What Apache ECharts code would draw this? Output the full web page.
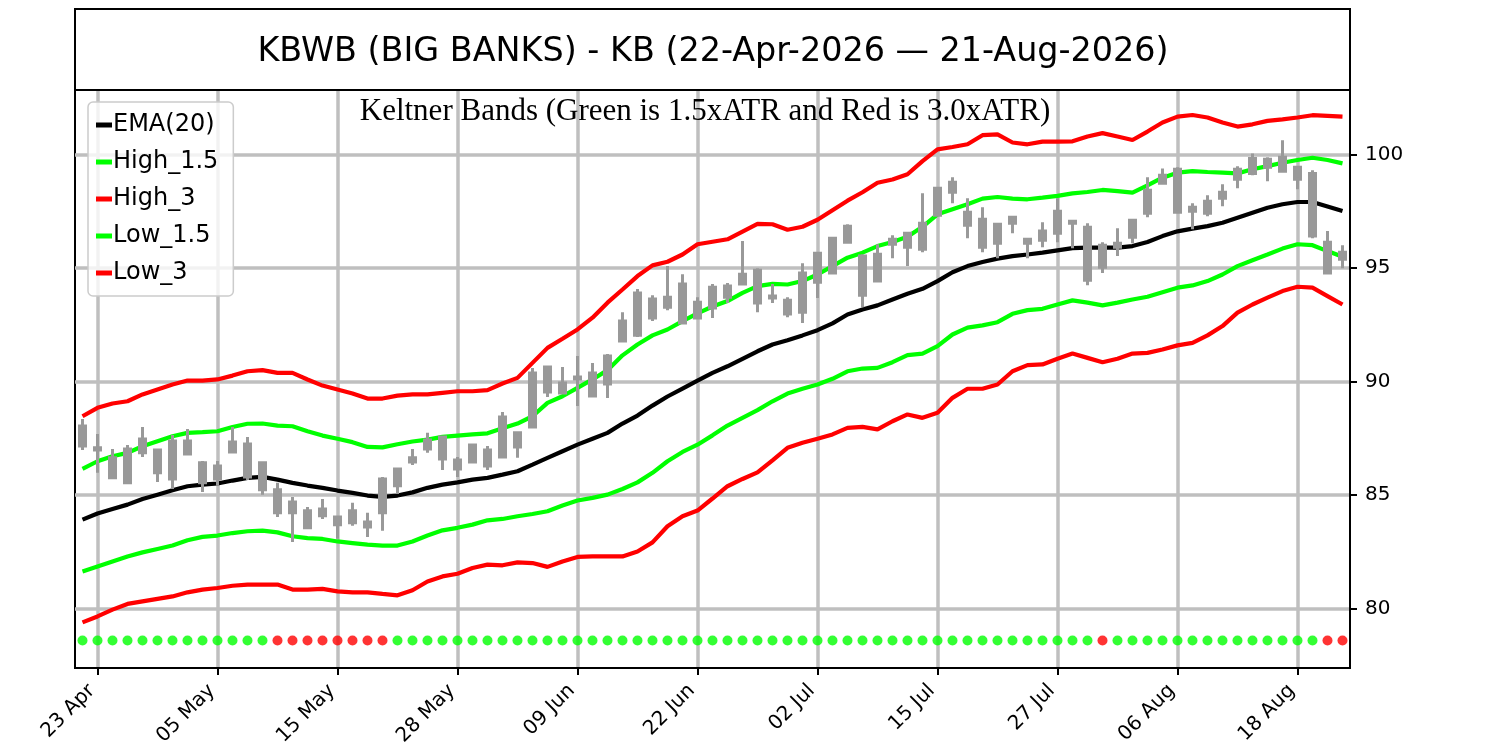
<!DOCTYPE html>
<html>
<head>
<meta charset="utf-8">
<title>KBWB Keltner Bands</title>
<script src="https://cdn.jsdelivr.net/npm/echarts@6/dist/echarts.min.js"></script>
<style>
html, body { margin: 0; padding: 0; background: #fff; }
#chart { width: 1500px; height: 750px; }
</style>
</head>
<body>
<div id="chart"></div>
<script>
var titleText = 'KBWB (BIG BANKS) - KB (22-Apr-2026 \u2014 21-Aug-2026)';
var subtitleText = 'Keltner Bands (Green is 1.5xATR and Red is 3.0xATR)';

// trading days
var dates = [
	'2026-04-22','2026-04-23','2026-04-24','2026-04-27','2026-04-28','2026-04-29','2026-04-30',
	'2026-05-01','2026-05-04','2026-05-05','2026-05-06','2026-05-07','2026-05-08','2026-05-11',
	'2026-05-12','2026-05-13','2026-05-14','2026-05-15','2026-05-18','2026-05-19','2026-05-20',
	'2026-05-21','2026-05-22','2026-05-26','2026-05-27','2026-05-28','2026-05-29',
	'2026-06-01','2026-06-02','2026-06-03','2026-06-04','2026-06-05','2026-06-08','2026-06-09',
	'2026-06-10','2026-06-11','2026-06-12','2026-06-15','2026-06-16','2026-06-17','2026-06-18',
	'2026-06-22','2026-06-23','2026-06-24','2026-06-25','2026-06-26','2026-06-29','2026-06-30',
	'2026-07-01','2026-07-02','2026-07-06','2026-07-07','2026-07-08','2026-07-09','2026-07-10',
	'2026-07-13','2026-07-14','2026-07-15','2026-07-16','2026-07-17','2026-07-20','2026-07-21',
	'2026-07-22','2026-07-23','2026-07-24','2026-07-27','2026-07-28','2026-07-29','2026-07-30',
	'2026-07-31','2026-08-03','2026-08-04','2026-08-05','2026-08-06','2026-08-07','2026-08-10',
	'2026-08-11','2026-08-12','2026-08-13','2026-08-14','2026-08-17','2026-08-18','2026-08-19',
	'2026-08-20','2026-08-21'
];
var monthNames = ['Jan','Feb','Mar','Apr','May','Jun','Jul','Aug','Sep','Oct','Nov','Dec'];
var tickIdx = [1, 9, 17, 25, 33, 41, 49, 57, 65, 73, 81];
var yTicks = [80, 85, 90, 95, 100];

// candles (all drawn grey)
var candleOpen = [
	88.04, 87.08, 86.64, 87.03, 87.47, 86.99, 87.38, 87.38, 86.42, 86.28,
	87.34, 87.25, 86.42, 85.23, 84.70, 84.31, 84.39, 84.04, 84.31, 83.82,
	85.71, 86.15, 86.64, 87.43, 87.56, 86.55, 87.21, 86.99, 88.44, 87.74,
	90.37, 90.64, 89.93, 90.20, 90.37, 91.12, 92.66, 93.89, 93.63, 93.71,
	94.29, 93.49, 94.15, 94.20, 94.72, 94.90, 93.76, 93.58, 94.77, 95.65,
	96.31, 96.83, 95.52, 95.60, 96.26, 96.53, 96.97, 98.51, 98.77, 97.45,
	97.14, 96.92, 97.23, 96.26, 96.62, 97.49, 97.05, 96.79, 96.00, 96.09,
	97.10, 98.42, 99.08, 99.34, 97.67, 97.93, 98.33, 99.34, 99.82, 99.78,
	99.87, 99.43, 99.16, 96.13, 95.69
];
var candleClose = [
	87.16, 86.99, 85.76, 85.54, 86.86, 85.98, 85.71, 86.81, 85.54, 85.71,
	86.90, 85.80, 85.23, 84.22, 84.22, 83.56, 84.09, 83.69, 83.78, 83.60,
	84.22, 85.41, 86.46, 87.03, 86.59, 86.15, 86.46, 86.28, 86.68, 87.12,
	88.00, 89.54, 89.49, 90.11, 89.36, 89.89, 91.78, 92.04, 92.79, 93.27,
	92.57, 92.79, 93.23, 93.71, 94.29, 93.45, 93.67, 92.97, 93.05, 94.37,
	94.77, 96.13, 93.80, 94.42, 96.04, 95.91, 95.82, 97.32, 98.33, 96.88,
	95.91, 96.09, 96.97, 96.09, 96.22, 96.53, 96.97, 94.46, 95.03, 95.91,
	96.35, 97.41, 98.73, 97.45, 97.49, 97.41, 98.07, 98.90, 99.16, 99.43,
	99.25, 98.90, 96.40, 94.77, 95.38
];
var candleLow = [
	86.99, 85.98, 85.71, 85.54, 86.68, 85.58, 85.27, 86.81, 85.14, 85.41,
	86.90, 85.67, 85.01, 84.04, 82.94, 83.56, 83.95, 83.08, 83.65, 83.16,
	83.43, 85.05, 86.33, 86.86, 86.11, 85.80, 86.42, 86.11, 86.68, 86.64,
	88.00, 89.32, 89.45, 88.92, 89.36, 89.27, 91.78, 91.96, 92.66, 93.14,
	92.53, 92.79, 92.79, 93.45, 94.29, 93.05, 93.45, 92.83, 92.57, 93.67,
	94.72, 96.13, 93.27, 94.42, 95.43, 95.08, 95.69, 97.32, 97.85, 96.31,
	95.69, 95.43, 96.53, 95.43, 95.91, 96.13, 95.87, 94.24, 94.77, 95.52,
	96.09, 97.23, 98.68, 97.45, 96.70, 97.27, 97.71, 98.51, 99.08, 98.81,
	99.25, 98.46, 96.31, 94.77, 94.99
];
var candleHigh = [
	88.35, 87.69, 87.03, 87.21, 88.00, 86.99, 87.65, 87.91, 86.50, 86.50,
	88.00, 87.56, 86.42, 85.54, 84.92, 84.48, 84.83, 84.09, 84.66, 84.22,
	85.80, 86.20, 87.03, 87.74, 87.56, 86.68, 87.21, 87.16, 88.66, 87.74,
	90.59, 90.68, 90.64, 91.12, 90.81, 91.21, 93.05, 94.07, 93.80, 95.08,
	94.72, 93.71, 94.29, 94.33, 96.18, 94.99, 94.29, 93.71, 95.21, 95.65,
	96.31, 96.92, 95.60, 96.04, 96.44, 96.57, 98.29, 98.51, 98.99, 98.07,
	97.67, 96.92, 97.27, 96.26, 97.01, 98.07, 97.05, 96.97, 96.13, 96.75,
	97.10, 98.99, 99.38, 99.43, 97.85, 98.20, 98.68, 99.47, 100.04, 99.87,
	100.62, 99.43, 99.30, 96.62, 96.00
];

// Keltner lines
var ema20 = [
	83.92, 84.19, 84.39, 84.58, 84.83, 85.02, 85.21, 85.39, 85.46, 85.51,
	85.64, 85.76, 85.80, 85.68, 85.54, 85.42, 85.32, 85.20, 85.10, 84.98,
	84.92, 84.98, 85.12, 85.32, 85.46, 85.56, 85.68, 85.76, 85.90, 86.05,
	86.34, 86.64, 86.93, 87.22, 87.48, 87.74, 88.15, 88.50, 88.94, 89.34,
	89.69, 90.04, 90.38, 90.67, 91.00, 91.33, 91.63, 91.82, 92.03, 92.26,
	92.56, 92.95, 93.17, 93.35, 93.61, 93.86, 94.08, 94.42, 94.81, 95.08,
	95.26, 95.41, 95.52, 95.59, 95.67, 95.77, 95.87, 95.89, 95.89, 95.89,
	95.96, 96.14, 96.40, 96.61, 96.73, 96.84, 96.99, 97.21, 97.43, 97.65,
	97.80, 97.90, 97.90, 97.70, 97.50
];
var high15 = [
	86.15, 86.49, 86.71, 86.86, 87.15, 87.37, 87.59, 87.74, 87.77, 87.81,
	88.00, 88.14, 88.15, 88.06, 88.03, 87.81, 87.62, 87.48, 87.33, 87.12,
	87.10, 87.24, 87.36, 87.44, 87.56, 87.62, 87.67, 87.72, 87.94, 88.15,
	88.47, 89.06, 89.35, 89.72, 90.09, 90.50, 91.15, 91.63, 92.03, 92.29,
	92.66, 93.00, 93.30, 93.54, 93.90, 94.20, 94.30, 94.27, 94.42, 94.71,
	95.08, 95.45, 95.67, 95.96, 96.14, 96.37, 96.81, 97.36, 97.58, 97.80,
	98.05, 98.12, 98.05, 98.02, 98.09, 98.17, 98.28, 98.34, 98.43, 98.38,
	98.31, 98.63, 98.97, 99.19, 99.26, 99.22, 99.19, 99.16, 99.34, 99.48,
	99.63, 99.75, 99.85, 99.75, 99.60
];
var high3 = [
	88.47, 88.84, 89.03, 89.13, 89.43, 89.65, 89.87, 90.04, 90.04, 90.09,
	90.26, 90.45, 90.50, 90.38, 90.38, 90.09, 89.82, 89.65, 89.47, 89.25,
	89.25, 89.38, 89.43, 89.43, 89.50, 89.57, 89.57, 89.62, 89.91, 90.16,
	90.82, 91.48, 91.88, 92.29, 92.81, 93.47, 94.05, 94.64, 95.11, 95.27,
	95.59, 96.04, 96.15, 96.26, 96.60, 96.94, 96.92, 96.68, 96.81, 97.12,
	97.54, 97.96, 98.33, 98.75, 98.89, 99.12, 99.70, 100.22, 100.32, 100.44,
	100.84, 100.88, 100.52, 100.44, 100.56, 100.56, 100.57, 100.78, 100.93, 100.78,
	100.63, 101.00, 101.40, 101.66, 101.73, 101.62, 101.40, 101.22, 101.32, 101.47,
	101.54, 101.62, 101.72, 101.69, 101.66
];
var low15 = [
	81.64, 81.86, 82.08, 82.30, 82.48, 82.63, 82.78, 83.01, 83.16, 83.22,
	83.33, 83.41, 83.44, 83.36, 83.19, 83.11, 83.07, 82.96, 82.89, 82.82,
	82.78, 82.78, 82.96, 83.22, 83.45, 83.56, 83.70, 83.89, 83.95, 84.07,
	84.17, 84.29, 84.54, 84.76, 84.88, 85.02, 85.27, 85.56, 85.98, 86.49,
	86.90, 87.22, 87.63, 88.06, 88.40, 88.74, 89.13, 89.47, 89.68, 89.87,
	90.12, 90.45, 90.57, 90.60, 90.85, 91.16, 91.23, 91.56, 92.07, 92.37,
	92.47, 92.61, 92.98, 93.14, 93.20, 93.39, 93.57, 93.47, 93.35, 93.47,
	93.61, 93.73, 93.93, 94.13, 94.23, 94.42, 94.71, 95.08, 95.34, 95.59,
	95.85, 96.04, 96.00, 95.74, 95.49
];
var low3 = [
	79.40, 79.66, 79.96, 80.21, 80.32, 80.43, 80.54, 80.72, 80.84, 80.91,
	81.01, 81.06, 81.06, 81.06, 80.84, 80.84, 80.87, 80.76, 80.72, 80.72,
	80.65, 80.59, 80.81, 81.20, 81.42, 81.54, 81.79, 81.94, 81.91, 82.04,
	82.01, 81.84, 82.08, 82.28, 82.30, 82.30, 82.30, 82.52, 82.92, 83.63,
	84.07, 84.32, 84.85, 85.39, 85.71, 86.00, 86.53, 87.08, 87.30, 87.48,
	87.67, 87.96, 88.00, 87.89, 88.25, 88.55, 88.40, 88.62, 89.28, 89.68,
	89.68, 89.87, 90.45, 90.72, 90.75, 91.00, 91.23, 91.04, 90.85, 91.00,
	91.23, 91.26, 91.41, 91.59, 91.70, 92.03, 92.44, 93.03, 93.39, 93.69,
	93.98, 94.17, 94.13, 93.76, 93.39
];

// signal row: 1 = green, 0 = red
var signal = [
	1, 1, 1, 1, 1, 1, 1, 1, 1, 1,
	1, 1, 1, 0, 0, 0, 0, 0, 0, 0,
	0, 1, 1, 1, 1, 1, 1, 1, 1, 1,
	1, 1, 1, 1, 1, 1, 1, 1, 1, 1,
	1, 1, 1, 1, 1, 1, 1, 1, 1, 1,
	1, 1, 1, 1, 1, 1, 1, 1, 1, 1,
	1, 1, 1, 1, 1, 1, 1, 1, 0, 1,
	1, 1, 1, 1, 1, 1, 1, 1, 1, 1,
	1, 1, 1, 0, 0
];
var signalLevel = 78.6;

var FONT = '"DejaVu Sans", sans-serif';
var GREEN = '#00ff00';
var RED = '#ff0000';
var GRID_GREY = '#bfbfbf';

function dayLabel(i) {
	var d = dates[i];
	if (!d) return '';
	return d.slice(8, 10) + ' ' + monthNames[parseInt(d.slice(5, 7), 10) - 1];
}

function pairs(arr) {
	return arr.map(function (v, i) { return [i, v]; });
}

function lineSeries(name, values, color) {
	return {
		name: name,
		type: 'line',
		data: pairs(values),
		symbol: 'none',
		z: 3,
		itemStyle: { color: color },
		lineStyle: { color: color, width: 4.2 }
	};
}

var candleData = candleOpen.map(function (o, i) {
	return [i, o, candleClose[i], candleLow[i], candleHigh[i]];
});

var signalData = signal.map(function (s, i) {
	return { value: [i, signalLevel], itemStyle: { color: s ? GREEN : RED } };
});

var chart = echarts.init(document.getElementById('chart'));

chart.setOption({
	animation: false,
	backgroundColor: '#fff',
	grid: {
		left: 75, right: 150, top: 90, bottom: 82,
		show: true, borderColor: '#000', borderWidth: 2,
		containLabel: false
	},
	legend: {
		orient: 'vertical',
		left: 88, top: 102,
		padding: [10, 15, 10, 8],
		itemGap: 11,
		itemWidth: 16, itemHeight: 5,
		icon: 'rect',
		backgroundColor: 'rgba(255,255,255,0.8)',
		borderColor: '#cccccc', borderWidth: 1.5, borderRadius: 5,
		textStyle: { fontFamily: FONT, fontSize: 24, color: '#000', lineHeight: 26, padding: [0, 0, 0, -4] },
		data: ['EMA(20)', 'High_1.5', 'High_3', 'Low_1.5', 'Low_3']
	},
	graphic: [
		{
			type: 'rect', silent: true, z: 100,
			shape: { x: 75, y: 9, width: 1275, height: 81 },
			style: { fill: 'none', stroke: '#000', lineWidth: 2 }
		},
		{
			type: 'text', silent: true, z: 100, x: 713, y: 52,
			style: { text: titleText, fill: '#000', fontSize: 33.4, fontFamily: 'DejaVu Sans', align: 'center', verticalAlign: 'middle' }
		},
		{
			type: 'text', silent: true, z: 100, x: 705, y: 112,
			style: { text: subtitleText, fill: '#000', fontSize: 31, fontFamily: 'Liberation Serif', align: 'center', verticalAlign: 'middle' }
		}
	],
	xAxis: {
		type: 'value',
		min: -0.5, max: dates.length - 0.5,
		axisLine: { show: true, onZero: false, lineStyle: { color: '#000', width: 2 } },
		axisTick: { show: true, length: 7, customValues: tickIdx, lineStyle: { color: '#000', width: 2 } },
		axisLabel: {
			customValues: tickIdx,
			rotate: 45, margin: 14,
			padding: [0, 8, 0, 0],
			fontFamily: FONT, fontSize: 20, color: '#000',
			formatter: function (v) { return dayLabel(Math.round(v)); }
		},
		splitLine: { show: true, lineStyle: { color: GRID_GREY, width: 3.5 } }
	},
	yAxis: {
		type: 'value',
		position: 'right',
		min: 77.39, max: 102.83,
		axisLine: { show: true, onZero: false, lineStyle: { color: '#000', width: 2 } },
		axisTick: { show: true, length: 7, customValues: yTicks, lineStyle: { color: '#000', width: 2 } },
		axisLabel: {
			customValues: yTicks,
			margin: 15,
			fontFamily: FONT, fontSize: 20, color: '#000'
		},
		splitLine: { show: true, lineStyle: { color: GRID_GREY, width: 3.5 } }
	},
	series: [
		lineSeries('EMA(20)', ema20, '#000000'),
		lineSeries('High_1.5', high15, GREEN),
		lineSeries('High_3', high3, RED),
		lineSeries('Low_1.5', low15, GREEN),
		lineSeries('Low_3', low3, RED),
		{
			name: 'KB',
			type: 'candlestick',
			data: candleData,
			barWidth: 7,
			z: 4,
			itemStyle: {
				color: '#999999', color0: '#999999',
				borderColor: '#999999', borderColor0: '#999999',
				borderWidth: 3
			}
		},
		{
			name: 'signal',
			type: 'scatter',
			data: signalData,
			symbol: 'circle',
			symbolSize: 10,
			z: 5
		}
	]
});
</script>
</body>
</html>
